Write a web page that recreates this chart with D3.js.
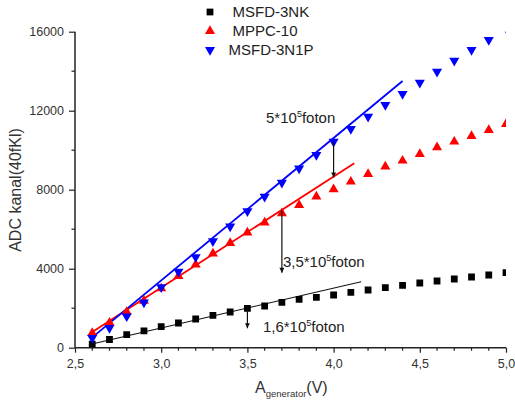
<!DOCTYPE html>
<html><head><meta charset="utf-8">
<script src="https://cdn.jsdelivr.net/npm/d3@7"></script>
<style>body{margin:0;background:#fff;}svg{display:block;font-family:"Liberation Sans",Arial,sans-serif;}</style>
</head><body>
<svg id="chart" width="515" height="403"></svg>
<script>
const xValues = [2.6,2.7,2.8,2.9,3.0,3.1,3.2,3.3,3.4,3.5,3.6,3.7,3.8,3.9,4.0,4.1,4.2,4.3,4.4,4.5,4.6,4.7,4.8,4.9,5.0];
const msfd3nk = [180,415,660,853,1063,1250,1453,1640,1808,1995,2111,2298,2450,2552,2668,2805,2921,3038,3159,3276,3377,3478,3580,3681,3797];
const mppc10 = [745,1266,1810,2370,3000,3630,4210,4760,5300,5830,6330,6805,7225,7646,8020,8405,8795,9165,9468,9807,10147,10430,10719,11022,11327];
const msfd3n1p = [500,1000,1590,2290,3070,3848,4590,5390,6145,6910,7646,8354,9083,9757,10430,11073,11696,12288,12845,13418,13975,14532,15073,15580,16200];
const seriesNames = ["MSFD-3NK","MPPC-10","MSFD-3N1P"];
const fitBlack = [[2.58,150],[4.16,3342]];
const fitRed = [[2.6,800],[4.12,9337]];
const fitBlue = [[2.6,520],[4.4,13504]];
const arrows = [[4.0,10430,8620],[3.7,6960,3800],[3.5,1995,990]];
const labelMain = ["5*10","3,5*10","1,6*10"];
const labelAnchors = [[3.608,11380],[3.706,4090],[3.59,795]];
const xTicks = [2.5,3.0,3.5,4.0,4.5,5.0];
const yTicks = [0,4000,8000,12000,16000];

const svg = d3.select("#chart");
const x = d3.scaleLinear().domain([2.5,5.0]).range([75,506]);
const y = d3.scaleLinear().domain([0,16000]).range([347.7,31.7]);
const fmt = d => d3.format(".1f")(d).replace(".", ",");

svg.append("defs").append("clipPath").attr("id","clip")
  .append("rect").attr("x",75).attr("y",31.7).attr("width",431).attr("height",316);
svg.select("defs").append("marker").attr("id","ah").attr("viewBox","0 0 10 10")
  .attr("refX",10).attr("refY",5).attr("markerWidth",7).attr("markerHeight",5)
  .attr("orient","auto").attr("markerUnits","userSpaceOnUse")
  .append("path").attr("d","M0,0 L10,5 L0,10 Z").attr("fill","#111");

// axes
const xAxis = d3.axisBottom(x).tickValues(xTicks).tickFormat(fmt).tickSize(5).tickPadding(6);
const gx = svg.append("g").attr("transform","translate(0,347.7)").call(xAxis);
const xMinor = d3.range(25,51).map(i=>i/10).filter(v=>!xTicks.some(t=>Math.abs(t-v)<1e-9));
gx.selectAll(".minor").data(xMinor).enter().append("line").attr("class","minor")
  .attr("x1",d=>x(d)).attr("x2",d=>x(d)).attr("y1",0).attr("y2",3).attr("stroke","#222").attr("stroke-width",1.2);

const yAxis = d3.axisLeft(y).tickValues(yTicks).tickFormat(d3.format("d")).tickSize(6).tickPadding(5);
const gy = svg.append("g").attr("transform","translate(75,0)").call(yAxis);
gy.selectAll(".minor").data([2000,6000,10000,14000]).enter().append("line").attr("class","minor")
  .attr("x1",0).attr("x2",-3.5).attr("y1",d=>y(d)).attr("y2",d=>y(d)).attr("stroke","#222").attr("stroke-width",1.2);

[gx,gy].forEach(g=>{
  g.select(".domain").attr("stroke","#222").attr("stroke-width",1.5);
  g.selectAll(".tick line").attr("stroke","#222").attr("stroke-width",1.2);
  g.selectAll(".tick text").attr("fill","#333").style("font-size","12.5px").style("font-family","'Liberation Sans',Arial,sans-serif");
});
gx.select(".domain").attr("d","M75,0H506");
gy.select(".domain").attr("d","M0,347.7V31.7");

// axis titles
svg.append("text").attr("transform","translate(21,190) rotate(-90)").attr("text-anchor","middle")
  .style("font-size","16px").attr("fill","#333").text("ADC kanal(40fKl)");
const xt = svg.append("text").attr("x",255).attr("y",393).style("font-size","16px").attr("fill","#333");
xt.append("tspan").text("A");
xt.append("tspan").attr("dy",4).style("font-size","9.5px").text("generator");
xt.append("tspan").attr("dy",-4).text("(V)");

// fit lines
const line = d3.line().x(d=>x(d[0])).y(d=>y(d[1]));
const plot = svg.append("g").attr("clip-path","url(#clip)");
plot.append("path").attr("d",line(fitBlack)).attr("stroke","#111").attr("stroke-width",1.1).attr("fill","none");
plot.append("path").attr("d",line(fitRed)).attr("stroke","#ff0000").attr("stroke-width",1.8).attr("fill","none");
plot.append("path").attr("d",line(fitBlue)).attr("stroke","#0000ff").attr("stroke-width",1.8).attr("fill","none");

// markers
const sq = d3.symbol().type(d3.symbolSquare).size(46);
const tri = d3.symbol().type(d3.symbolTriangle).size(44);
plot.selectAll(".sq").data(msfd3nk).enter().append("path").attr("d",sq)
  .attr("transform",(d,i)=>`translate(${x(xValues[i])},${y(d)})`).attr("fill","#000");
plot.selectAll(".tu").data(mppc10).enter().append("path").attr("d",tri)
  .attr("transform",(d,i)=>`translate(${x(xValues[i])},${y(d)})`).attr("fill","#ff0000");
plot.selectAll(".td").data(msfd3n1p).enter().append("path").attr("d",tri)
  .attr("transform",(d,i)=>`translate(${x(xValues[i])},${y(d)}) rotate(180)`).attr("fill","#0000ff");

// arrows
svg.selectAll(".arr").data(arrows).enter().append("line")
  .attr("x1",d=>x(d[0])).attr("x2",d=>x(d[0])).attr("y1",d=>y(d[1])).attr("y2",d=>y(d[2]))
  .attr("stroke","#111").attr("stroke-width",1.2).attr("marker-end","url(#ah)");

// annotations
labelAnchors.forEach((a,i)=>{
  const t = svg.append("text").attr("x",x(a[0])).attr("y",y(a[1])).style("font-size","15px").attr("fill","#222");
  t.append("tspan").text(labelMain[i]);
  t.append("tspan").attr("dy",-6).style("font-size","9px").text("5");
  t.append("tspan").attr("dy",6).text("foton");
});

// legend
const leg = svg.append("g");
const legY = [12,31,50];
leg.append("path").attr("d",sq).attr("transform",`translate(210,${legY[0]})`).attr("fill","#000");
leg.append("path").attr("d",tri).attr("transform",`translate(210,${legY[1]})`).attr("fill","#ff0000");
leg.append("path").attr("d",tri).attr("transform",`translate(210,${legY[2]}) rotate(180)`).attr("fill","#0000ff");
const legX = [232.5,232.5,228.5];
seriesNames.forEach((n,i)=>{
  leg.append("text").attr("x",legX[i]).attr("y",legY[i]).attr("dy","0.36em")
    .style("font-size","15px").attr("fill","#222").text(n);
});
</script>
</body></html>
